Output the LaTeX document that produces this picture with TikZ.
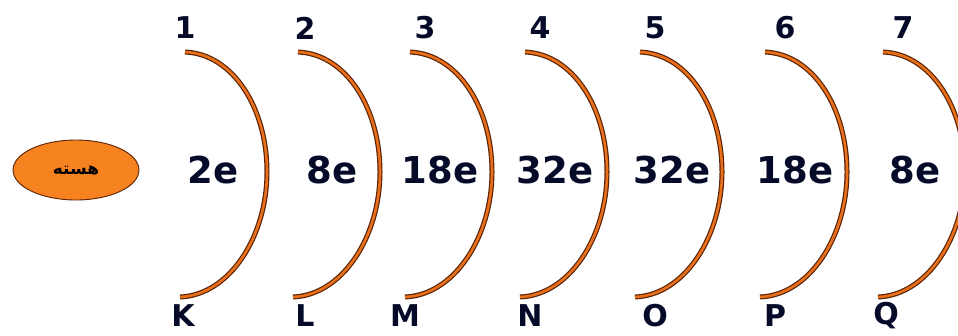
\documentclass[tikz,border=0pt]{standalone}
\usepackage{fontspec}
\setmainfont{DejaVu Sans}
\newfontfamily\arabicfont[Script=Arabic]{DejaVu Sans}
\TeXXeTstate=1
\definecolor{shellor}{RGB}{232,112,28}
\definecolor{shelldark}{RGB}{90,35,5}
\definecolor{nucor}{RGB}{246,130,32}
\definecolor{txtnavy}{RGB}{5,10,40}
\tikzset{
  numlbl/.style={font=\fontsize{30}{30}\selectfont\bfseries, text=txtnavy, inner sep=0pt},
  elbl/.style={font=\fontsize{37}{37}\selectfont\bfseries, text=txtnavy, inner sep=0pt},
  letlbl/.style={font=\fontsize{30}{30}\selectfont\bfseries, text=txtnavy, inner sep=0pt},
  shellout/.style={draw=shelldark, line width=5pt, line join=round},
  shellin/.style={draw=shellor, line width=2.6pt, line join=round},
  nucleus/.style={ellipse, draw=shelldark, line width=0.9pt, fill=nucor, minimum width=126pt, minimum height=60pt, inner sep=0pt}
}
\usetikzlibrary{shapes.geometric}
\begin{document}
\begin{tikzpicture}[x=1pt,y=-1pt]
\useasboundingbox (0,0) rectangle (958,335);
\node[nucleus] (nuc) at (76,170) {\fontsize{17}{17}\selectfont\arabicfont\bfseries\beginR هسته\endR};
% shells
\foreach \i/\x/\n/\e/\ex/\nx/\l/\lx in {1/185/1/2e/213/185/K/183, 2/298/2/8e/332/305/L/305, 3/410/3/18e/440/425/M/405, 4/525/4/32e/555/540/N/530, 5/640/5/32e/672/655/O/655, 6/765/6/18e/795/785/P/775, 7/883/7/8e/915/903/Q/886}{
  \coordinate (t\i) at (\x,52);
  \coordinate (m\i) at (\x+82,172);
  \coordinate (b\i) at (\x-5,297);
  \draw[shellout] (t\i) .. controls (\x+48,54) and (\x+82,108) .. (m\i) .. controls (\x+82,236) and (\x+45,295) .. (b\i);
  \draw[shellin] (t\i) .. controls (\x+48,54) and (\x+82,108) .. (m\i) .. controls (\x+82,236) and (\x+45,295) .. (b\i);
  \node[numlbl] (n\i) at (\nx,28) {\n};
  \node[elbl] (e\i) at (\ex,170) {\e};
  \node[letlbl] (l\i) at (\lx,316) {\l};
}
\end{tikzpicture}
\end{document}
